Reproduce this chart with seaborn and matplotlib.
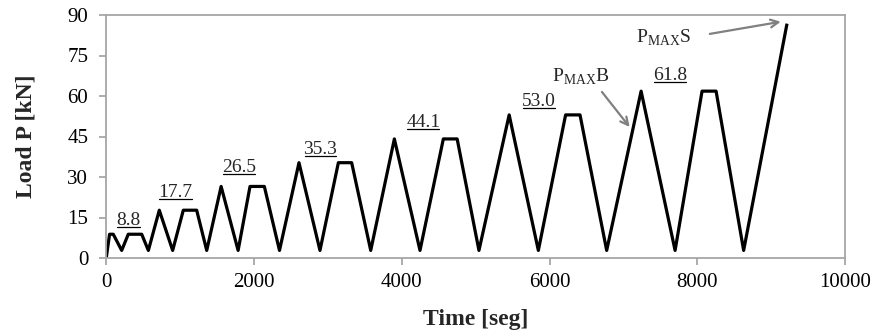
import matplotlib
matplotlib.use("Agg")
import matplotlib.pyplot as plt
import seaborn as sns
import pandas as pd
from matplotlib.lines import Line2D

# ---- data ----
time_s = [0, 45, 95, 209, 298, 480, 570, 718, 899, 1043, 1224, 1360, 1555, 1785,
          1946, 2140, 2345, 2609, 2893, 3142, 3322, 3580, 3900, 4247, 4563, 4750,
          5045, 5454, 5849, 6218, 6413, 6774, 7240, 7700, 8065, 8255, 8628, 9215]
load_kn = [0, 8.8, 8.8, 2.8, 8.8, 8.8, 2.8, 17.7, 2.8, 17.7, 17.7, 2.8, 26.5, 2.8,
           26.5, 26.5, 2.8, 35.3, 2.8, 35.3, 35.3, 2.8, 44.1, 2.8, 44.1, 44.1,
           2.8, 53.0, 2.8, 53.0, 53.0, 2.8, 61.8, 2.8, 61.8, 61.8, 2.8, 86.8]

level_labels = ["8.8", "17.7", "26.5", "35.3", "44.1", "53.0", "61.8"]
label_x = [300, 937, 1797, 2900, 4292, 5858, 7636]
label_y = [14.0, 24.2, 33.4, 40.1, 50.2, 57.9, 67.6]

ann_texts = ["B", "S"]
ann_text_xy = [(6030, 67.0), (7170, 81.5)]
ann_tip_xy = [(7085, 48.5), (9130, 87.5)]
ann_tail_xy = [(6710, 61.5), (8170, 83.0)]

x_ticks = [0, 2000, 4000, 6000, 8000, 10000]
y_ticks = [0, 15, 30, 45, 60, 75, 90]

df = pd.DataFrame({"Time": time_s, "Load": load_kn})

sns.set_style("ticks")
plt.rcParams["font.family"] = ["Liberation Serif", "DejaVu Serif"]
plt.rcParams["mathtext.fontset"] = "custom"
plt.rcParams["mathtext.rm"] = "Liberation Serif"

fig = plt.figure(figsize=(8.74, 3.33), dpi=100)
ax = fig.add_axes([106.25 / 874, 1 - 258 / 333, (845 - 106.25) / 874, (258 - 15) / 333])

sns.lineplot(data=df, x="Time", y="Load", ax=ax, color="black", linewidth=2.3,
             sort=False, estimator=None)
for l in ax.get_lines():
    l.set_solid_joinstyle("round")
    l.set_solid_capstyle("butt")

ax.set_xlim(0, 10000)
ax.set_ylim(0, 90)
ax.set_xticks(x_ticks)
ax.set_yticks(y_ticks)
ax.tick_params(axis="both", labelsize=15, length=5, width=1.2, color="#a0a0a0",
               direction="out", labelcolor="black")
ax.tick_params(axis="x", pad=6)
ax.tick_params(axis="y", pad=8)
for s in ax.spines.values():
    s.set_visible(True)
    s.set_color("#a6a6a6")
    s.set_linewidth(1.3)

ax.set_xlabel("Time [seg]", fontsize=17, fontweight="bold", labelpad=12)
ax.set_ylabel("Load P [kN]", fontsize=17, fontweight="bold", labelpad=22)

texts = []
for lab, x, y in zip(level_labels, label_x, label_y):
    t = ax.text(x, y, lab, fontsize=14, ha="center", va="center")
    texts.append(t)

for suf, txy, tip, tail in zip(ann_texts, ann_text_xy, ann_tip_xy, ann_tail_xy):
    ax.text(txy[0], txy[1], r"P$_{\mathrm{MAX}}$" + suf, fontsize=14,
            ha="left", va="center")
    ax.annotate("", xy=tip, xytext=tail,
                arrowprops=dict(arrowstyle="->", color="#808080", lw=1.6,
                                mutation_scale=14, shrinkA=0, shrinkB=0))

fig.canvas.draw()
r = fig.canvas.get_renderer()
for t in texts:
    bb = t.get_window_extent(r)
    yline = bb.y0 + 2
    fig.add_artist(Line2D([bb.x0 + 1, bb.x1 - 1], [yline, yline], color="black",
                          lw=0.9, transform=None))

fig.savefig("out.png", dpi=100)
